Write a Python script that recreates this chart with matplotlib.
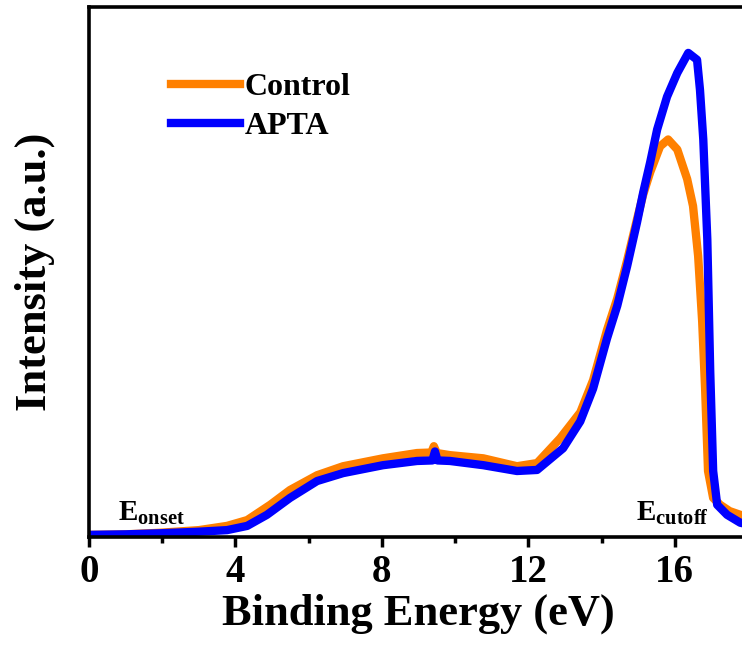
import matplotlib
matplotlib.use("Agg")
import matplotlib.pyplot as plt

plt.rcParams['font.family'] = ['Liberation Serif', 'DejaVu Serif']
plt.rcParams['font.weight'] = 'bold'
plt.rcParams['mathtext.fontset'] = 'custom'
plt.rcParams['mathtext.rm'] = 'Liberation Serif:bold'
plt.rcParams['mathtext.bf'] = 'Liberation Serif:bold'

# values (binding energy in eV, intensity in arbitrary units)
control_x = [0.0, 1.0, 1.94, 3.0, 3.77, 4.32, 4.95, 5.49, 6.23, 6.94, 8.03, 8.96,
             9.35, 9.42, 9.5, 9.86, 10.77, 11.69, 12.24, 12.87, 13.42, 13.77, 14.15,
             14.43, 14.70, 14.97, 15.14, 15.33, 15.60, 15.82, 16.07, 16.34, 16.50,
             16.64, 16.75, 16.83, 16.91, 17.05, 17.24, 17.5, 17.79, 18.0]
control_y = [0.0, 0.001, 0.004, 0.009, 0.017, 0.028, 0.057, 0.085, 0.113, 0.130, 0.145, 0.155,
             0.156, 0.168, 0.155, 0.151, 0.145, 0.130, 0.136, 0.183, 0.232, 0.293, 0.388,
             0.448, 0.520, 0.598, 0.645, 0.687, 0.736, 0.749, 0.730, 0.674, 0.623,
             0.528, 0.404, 0.277, 0.121, 0.070, 0.057, 0.045, 0.038, 0.035]

apta_x = [0.0, 1.0, 1.94, 3.0, 3.77, 4.32, 4.86, 5.49, 6.23, 6.94, 8.03, 8.96,
          9.38, 9.45, 9.52, 9.86, 10.77, 11.69, 12.24, 12.95, 13.42, 13.77, 14.15,
          14.43, 14.70, 14.97, 15.14, 15.33, 15.52, 15.79, 16.07, 16.37, 16.61,
          16.69, 16.78, 16.89, 16.97, 17.05, 17.16, 17.43, 17.79, 18.0]
apta_y = [0.0, 0.001, 0.003, 0.006, 0.009, 0.017, 0.038, 0.070, 0.102, 0.117, 0.132, 0.140,
          0.141, 0.158, 0.141, 0.140, 0.132, 0.121, 0.123, 0.164, 0.215, 0.277, 0.372,
          0.434, 0.509, 0.592, 0.649, 0.706, 0.768, 0.830, 0.875, 0.913, 0.900,
          0.843, 0.749, 0.560, 0.309, 0.121, 0.057, 0.038, 0.023, 0.02]

major_ticks = [0, 4, 8, 12, 16]
minor_ticks = [2, 6, 10, 14]

fig = plt.figure(figsize=(7.42, 6.52), dpi=100)
ax = fig.add_axes([0.12, 0.1764, 0.888, 0.8129])

ax.plot(control_x, control_y, color='#FF8000', lw=6, label='Control', solid_joinstyle='round')
ax.plot(apta_x, apta_y, color='#0000FF', lw=6, label='APTA', solid_joinstyle='round')

ax.set_xlim(0, 18)
ax.set_ylim(-0.004, 1.0)
ax.set_xticks(major_ticks)
ax.set_xticks(minor_ticks, minor=True)
ax.set_yticks([])
ax.tick_params(axis='x', which='major', direction='out', length=7, width=2.5, labelsize=28, pad=5)
ax.tick_params(axis='x', which='minor', direction='out', length=4, width=2.5)
for sp in ax.spines.values():
    sp.set_linewidth(2.6)

ax.set_xlabel('Binding Energy (eV)', fontsize=32, fontweight='bold', labelpad=2)
ax.set_ylabel('Intensity (a.u.)', fontsize=32, fontweight='bold')
ax.yaxis.set_label_coords(-0.052, 0.5)

ax.text(0.8, 0.015, r'$\mathbf{E}_{\mathbf{onset}}$', fontsize=21, ha='left', va='bottom')
ax.text(14.95, 0.015, r'$\mathbf{E}_{\mathbf{cutoff}}$', fontsize=21, ha='left', va='bottom')

leg = ax.legend(loc='upper left', bbox_to_anchor=(0.105, 0.90), frameon=False, fontsize=23,
                handlelength=2.15, handletextpad=0.15, labelspacing=0.3, borderaxespad=0)

fig.savefig('out.png', dpi=100)
